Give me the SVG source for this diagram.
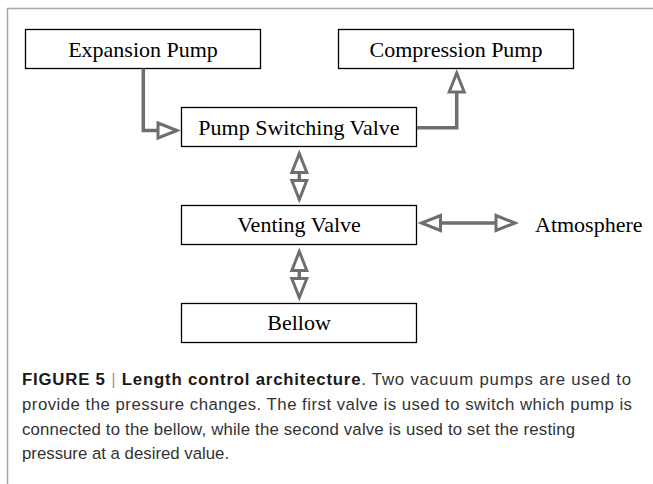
<svg xmlns="http://www.w3.org/2000/svg" width="653" height="484" viewBox="0 0 653 484">
<style>
.node rect{fill:#fff;stroke:#000;stroke-width:1.3}
.node text{font-family:"Liberation Serif","Times New Roman",serif;font-size:22px;fill:#000;text-anchor:middle}
.conn path{fill:none;stroke:#6e6e6e;stroke-width:3.5}
.frame{stroke:#a8a8a8;stroke-width:1.5;fill:none}
.cap{font-family:"Liberation Sans",Arial,sans-serif;font-size:16.8px;fill:#333}
.lbl{font-family:"Liberation Serif","Times New Roman",serif;font-size:22px;fill:#000}
</style>
<defs>
<marker id="ah" markerUnits="userSpaceOnUse" markerWidth="30" markerHeight="30" refX="0" refY="0" orient="auto-start-reverse" overflow="visible">
<path d="M-19,-7.5 L0,0 L-19,7.5 Z" fill="#fff" stroke="#6e6e6e" stroke-width="3"/>
</marker>
</defs>
<path class="frame" d="M7.5,484 V8.5 H653"/>
<g id="expansion-pump" class="node"><rect x="25.5" y="29.5" width="235" height="39"/><text x="143" y="56.5">Expansion Pump</text></g>
<g id="compression-pump" class="node"><rect x="338.5" y="29.5" width="235" height="39"/><text x="456" y="56.5">Compression Pump</text></g>
<g id="pump-switching-valve" class="node"><rect x="181.5" y="107.5" width="235" height="39"/><text x="299" y="135">Pump Switching Valve</text></g>
<g id="venting-valve" class="node"><rect x="181.5" y="205.5" width="235" height="39"/><text x="299" y="232">Venting Valve</text></g>
<g id="bellow" class="node"><rect x="181.5" y="303.5" width="235" height="39"/><text x="299" y="330">Bellow</text></g>
<g id="atmosphere"><text class="lbl" x="535" y="232">Atmosphere</text></g>
<g id="connectors" class="conn">
<path d="M143.3,68.5 V130.5 H177" marker-end="url(#ah)"/>
<path d="M417,127.7 H456.7 V73" marker-end="url(#ah)"/>
<path d="M299.3,153.5 V199.5" marker-start="url(#ah)" marker-end="url(#ah)"/>
<path d="M299.3,251.5 V297.5" marker-start="url(#ah)" marker-end="url(#ah)"/>
<path d="M421.5,223 H515" marker-start="url(#ah)" marker-end="url(#ah)"/>
</g>
<g id="caption" class="cap">
<text x="22" y="385" textLength="609" lengthAdjust="spacing"><tspan font-weight="bold" fill="#1a1a1a">FIGURE 5</tspan><tspan fill="#999"> | </tspan><tspan font-weight="bold" fill="#1a1a1a">Length control architecture</tspan>. Two vacuum pumps are used to</text>
<text x="22" y="410" textLength="610" lengthAdjust="spacing">provide the pressure changes. The first valve is used to switch which pump is</text>
<text x="22" y="434.5" textLength="553" lengthAdjust="spacing">connected to the bellow, while the second valve is used to set the resting</text>
<text x="22" y="459">pressure at a desired value.</text>
</g>
</svg>
